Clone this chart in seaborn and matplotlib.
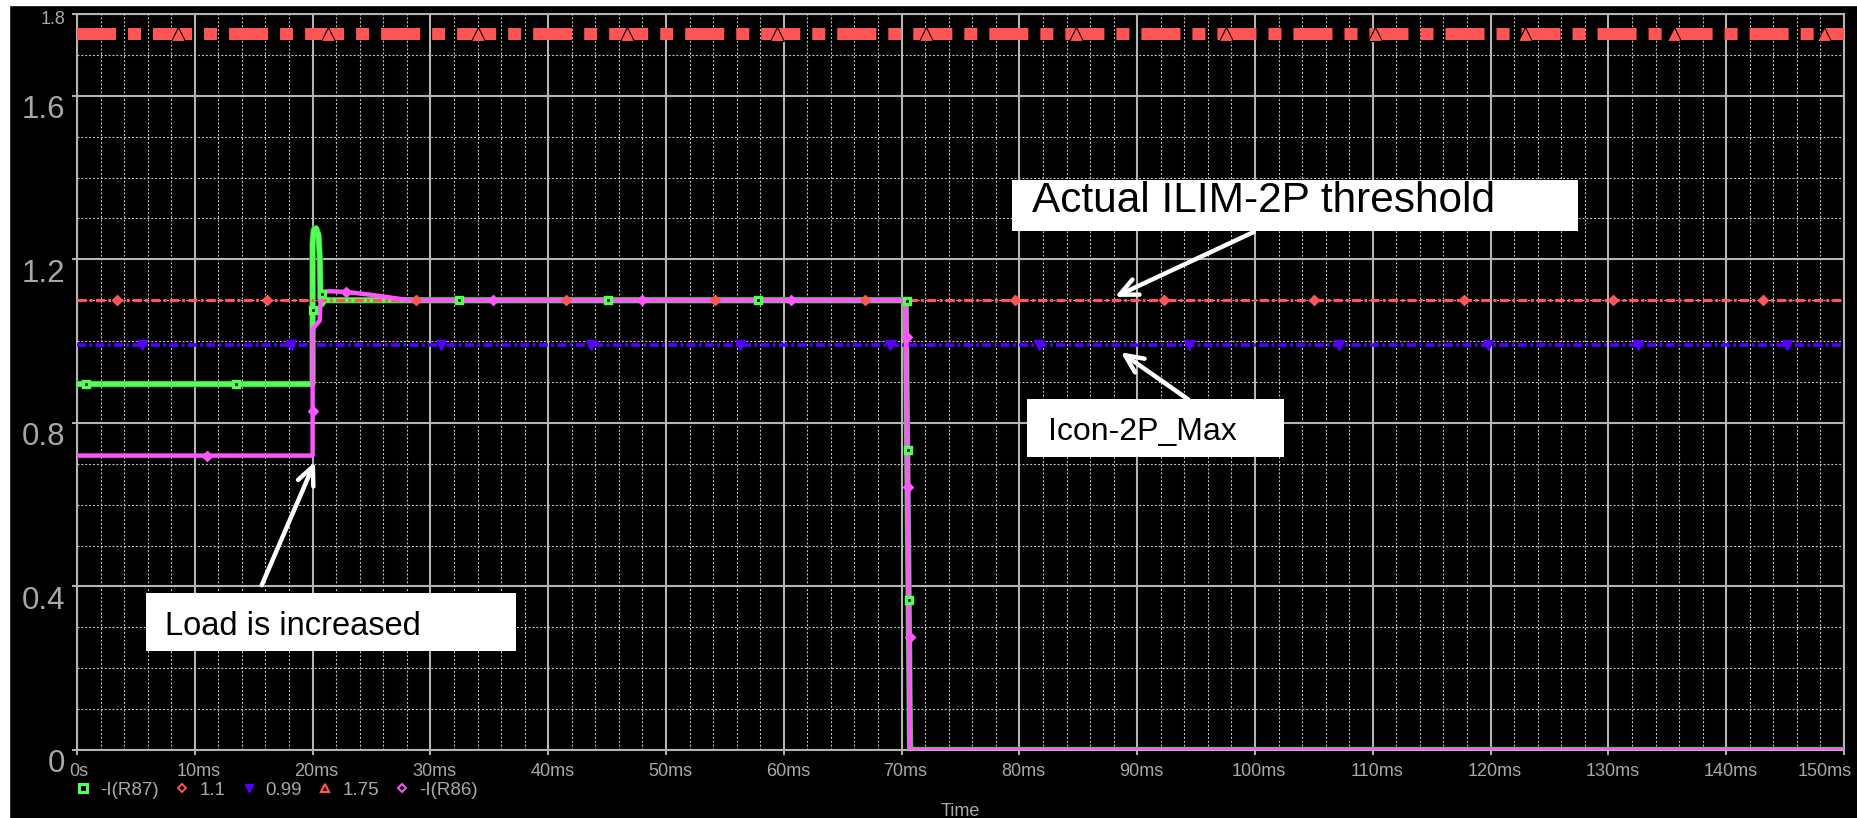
import numpy as np
import matplotlib
matplotlib.use("Agg")
import matplotlib.pyplot as plt
import matplotlib.transforms as mtransforms
from matplotlib.patches import Rectangle
from matplotlib.lines import Line2D
import seaborn as sns

# traces (time in ms, current in A)
r87_t = [0, 20.0, 20.0, 20.1, 20.3, 20.5, 20.62, 20.68, 20.78, 21.0, 70.35, 70.72, 150]
r87_i = [0.895, 0.895, 1.24, 1.272, 1.276, 1.26, 1.2, 1.10, 1.09, 1.1, 1.1, 0.0, 0.0]
r86_t = [0, 20.0, 20.0, 20.3, 20.6, 20.7, 21.5, 23.0, 25.0, 27.0, 28.3, 70.35, 70.72, 150]
r86_i = [0.72, 0.72, 1.03, 1.04, 1.05, 1.12, 1.122, 1.12, 1.113, 1.105, 1.1, 1.1, 0.0, 0.0]

# marker points on the traces
r87_mark_t = [0.8, 13.5, 20.0, 20.8, 32.4, 45.1, 57.8, 70.45, 70.55, 70.65]
r87_mark_i = [0.895, 0.895, 1.077, 1.115, 1.1, 1.1, 1.1, 1.098, 0.733, 0.367]
r86_mark_t = [11.0, 20.0, 22.8, 35.3, 48.0, 60.6, 70.45, 70.58, 70.68]
r86_mark_i = [0.72, 0.83, 1.12, 1.1, 1.1, 1.1, 1.01, 0.643, 0.276]

# constant levels and where their markers sit
level_a = 1.1
level_b = 0.99
level_c = 1.75
mark_a_t = [3.4, 16.1, 28.8, 41.5, 54.2, 66.9, 79.6, 92.3, 105.0, 117.7, 130.4, 143.1]
mark_b_t = [5.5, 18.2, 30.9, 43.6, 56.3, 69.0, 81.7, 94.4, 107.1, 119.8, 132.5, 145.2]
mark_c_t = [8.6, 21.3, 34.0, 46.7, 59.4, 72.1, 84.8, 97.5, 110.2, 122.9, 135.6, 148.3]

x_ticks = [0, 10, 20, 30, 40, 50, 60, 70, 80, 90, 100, 110, 120, 130, 140, 150]
x_labels = ['0s', '10ms', '20ms', '30ms', '40ms', '50ms', '60ms', '70ms', '80ms',
            '90ms', '100ms', '110ms', '120ms', '130ms', '140ms', '150ms']
y_ticks = [0, 0.4, 0.8, 1.2, 1.6, 1.8]
y_labels = ['0', '0.4', '0.8', '1.2', '1.6', '1.8']
legend_names = ['-I(R87)', '1.1', '0.99', '1.75', '-I(R86)']

green = '#55ff55'
magenta = '#ff55ff'
red = '#ff5555'
blue = '#5500ff'
gray = '#b4b4b4'
txt = '#a8a8a8'

sns.set_style("dark")
plt.rcParams['font.family'] = ['Liberation Sans', 'DejaVu Sans']
plt.rcParams['lines.scale_dashes'] = False

fig = plt.figure(figsize=(18.57, 8.18), dpi=100, facecolor='black')
ax = fig.add_axes([77/1857, 68/818, 1767/1857, 736/818])
ax.set_facecolor('black')

# white strips on the left and top edge of the screenshot
fig.add_artist(Rectangle((0, 0), 9/1857, 1, transform=fig.transFigure, color='white'))
fig.add_artist(Rectangle((0, 1 - 5/818), 1, 5/818, transform=fig.transFigure, color='white'))

# traces
sns.lineplot(x=r87_t, y=r87_i, ax=ax, estimator=None, sort=False, color='#2e9e2e', lw=4.6, zorder=3)
sns.lineplot(x=r87_t, y=r87_i, ax=ax, estimator=None, sort=False, color=green, lw=3.6, zorder=3)
ax.axhline(level_a, color=red, lw=2.3, ls=(0, (6.5, 2.4, 2.0, 2.4)), zorder=4)
ax.axhline(level_b, color=blue, lw=2.6, ls=(0, (6.5, 2.4, 2.0, 2.4)), zorder=5)
ax.axhline(level_c, color=red, lw=8.64, ls=(0, (28.1, 8.64, 9.36, 8.64)),
           dash_capstyle='butt', zorder=6)
sns.lineplot(x=r86_t, y=r86_i, ax=ax, estimator=None, sort=False, color=magenta, lw=3.2, zorder=7)

# markers
ax.plot(r87_mark_t, r87_mark_i, ls='none', marker='s', ms=4.8, mfc='black', mec=green, mew=2.4, zorder=9)
ax.plot(mark_a_t, [level_a] * len(mark_a_t), ls='none', marker='D', ms=4.6, color=red, zorder=9)
ax.plot(mark_b_t, [level_b] * len(mark_b_t), ls='none', marker='v', ms=7, color=blue, zorder=9)
ax.plot(mark_c_t, [level_c] * len(mark_c_t), ls='none', marker='^', ms=10, mfc=red, mec='black',
        mew=0.8, zorder=9)
ax.plot(r86_mark_t, r86_mark_i, ls='none', marker='D', ms=4.6, color=magenta, zorder=10)

# axes, ticks, grid
ax.set_xlim(0, 150)
ax.set_ylim(0, 1.8)
ax.set_xticks(x_ticks)
ax.set_xticklabels(x_labels)
ax.set_xticks(np.arange(0, 151, 2), minor=True)
ax.set_yticks(y_ticks)
ax.set_yticklabels(y_labels)
ax.set_yticks(np.arange(0, 1.81, 0.1), minor=True)
ax.tick_params(which='major', bottom=True, left=True, color=gray, width=1.4, length=3.6, direction='out')
ax.tick_params(which='minor', bottom=False, left=False, length=0)
ax.tick_params(axis='x', labelsize=13, labelcolor=txt, pad=6)
ax.tick_params(axis='y', labelsize=22.5, labelcolor=txt, pad=5)
ax.grid(which='major', color=gray, lw=1.5, ls='-')
ax.grid(which='minor', color='#c8c8c8', lw=0.8, ls=(0, (1.4, 1.4)))
for s in ax.spines.values():
    s.set_color(gray)
    s.set_linewidth(1.5)

for lab in ax.get_yticklabels():
    dy = -0.11
    if lab.get_text() == '1.8':
        lab.set_fontsize(13)
        dy = -0.035
    lab.set_transform(lab.get_transform() + mtransforms.ScaledTranslation(0, dy, fig.dpi_scale_trans))
for lab in ax.get_xticklabels():
    dx = 0.04
    if lab.get_text() == '150ms':
        dx = -0.19
    elif lab.get_text() == '0s':
        dx = 0.02
    lab.set_transform(lab.get_transform() + mtransforms.ScaledTranslation(dx, 0, fig.dpi_scale_trans))

ax.set_xlabel('Time', fontsize=13, color=txt)
ax.xaxis.label.set_va('center')
ax.xaxis.set_label_coords(0.5, (750 - 811) / 736)
ax.set_ylabel('')

# legend row under the tick labels
handles = [
    Line2D([], [], ls='none', marker='s', ms=5.5, mfc='none', mec=green, mew=2.2),
    Line2D([], [], ls='none', marker='D', ms=3.8, mfc='none', mec=red, mew=1.4),
    Line2D([], [], ls='none', marker='v', ms=5.5, color=blue),
    Line2D([], [], ls='none', marker='^', ms=6, mfc='none', mec=red, mew=1.6),
    Line2D([], [], ls='none', marker='D', ms=3.8, mfc='none', mec=magenta, mew=1.4),
]
ax.legend(handles, legend_names, ncol=5, loc='center left', bbox_to_anchor=(74/1857, 1 - 790/818),
          bbox_transform=fig.transFigure, frameon=False, fontsize=13.5, handlelength=1.0,
          handletextpad=0.4, columnspacing=0.75, borderpad=0, borderaxespad=0, labelcolor=txt)

# callout boxes and arrows
ax.add_patch(Rectangle((79.37, 1.269), 48.05, 0.125, facecolor='white', edgecolor='none', zorder=20))
ax.text(81.11, 1.315, 'Actual ILIM-2P threshold', fontsize=30.5, color='black', va='baseline', zorder=21)
ax.add_patch(Rectangle((80.65, 0.716), 21.81, 0.142, facecolor='white', edgecolor='none', zorder=20))
ax.text(82.43, 0.758, 'Icon-2P_Max', fontsize=23, color='black', va='baseline', zorder=21)
ax.add_patch(Rectangle((5.86, 0.242), 31.41, 0.142, facecolor='white', edgecolor='none', zorder=20))
ax.text(7.47, 0.281, 'Load is increased', fontsize=23.5, color='black', va='baseline', zorder=21)

arrow = dict(arrowstyle='->,head_length=1.3,head_width=0.6', color='white', lw=3.2, shrinkA=0, shrinkB=0)
ax.annotate('', xy=(88.1, 1.108), xytext=(99.9, 1.267), arrowprops=arrow, zorder=19)
ax.annotate('', xy=(88.6, 0.973), xytext=(94.3, 0.858), arrowprops=arrow, zorder=19)
ax.annotate('', xy=(20.2, 0.705), xytext=(15.68, 0.403), arrowprops=arrow, zorder=19)

fig.savefig('out.png', dpi=100, facecolor='black')
